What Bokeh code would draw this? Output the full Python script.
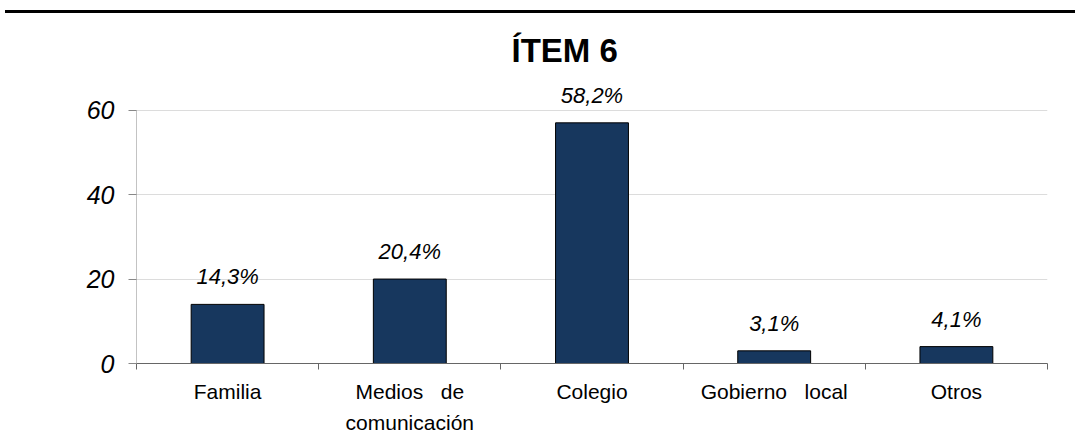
from bokeh.plotting import figure
from bokeh.models import (ColumnDataSource, Range1d, FixedTicker, LabelSet, Div, Title)
from bokeh.core.properties import value
from bokeh.layouts import column
from bokeh.embed import file_html
from bokeh.resources import INLINE

# ---- data ----
categories = ["Familia", "Medios de comunicación", "Colegio", "Gobierno local", "Otros"]
x_labels = ["Familia", "Medios\u00a0\u00a0\u00a0de\ncomunicación", "Colegio",
            "Gobierno\u00a0\u00a0\u00a0local", "Otros"]
counts = [14, 20, 57, 3, 4]
pct_labels = ["14,3%", "20,4%", "58,2%", "3,1%", "4,1%"]
y_ticks = [0, 20, 40, 60]
title_text = "ÍTEM 6"

FONT = "Liberation Sans"
BAR = "#17375E"

n = len(categories)
xc = [i + 0.5 for i in range(n)]
src = ColumnDataSource(dict(x=xc, top=counts, lab=pct_labels, cat=categories))

y_top = y_ticks[-1] + 7.5  # headroom for value labels

p = figure(width=1070, height=418, output_backend="svg", toolbar_location=None,
           x_range=Range1d(0, n), y_range=Range1d(0, y_top),
           min_border_left=136, min_border_right=23, min_border_top=60, min_border_bottom=73)
p.outline_line_color = None
p.background_fill_color = "white"

p.vbar(x="x", top="top", width=0.4, source=src, fill_color=BAR, line_color="black", line_width=1)

# y-axis line drawn only up to the last tick
p.segment(x0=[0], y0=[y_ticks[0]], x1=[0], y1=[y_ticks[-1]], line_color="#888888", line_width=1)

labels = LabelSet(x="x", y="top", text="lab", source=src, y_offset=20,
                  text_align="center", text_baseline="alphabetic",
                  text_font=value(FONT), text_font_size="22px", text_font_style="italic",
                  text_color="black")
p.add_layout(labels)

# title
p.title = Title(text=title_text, text_font=FONT, text_font_size="33px", text_font_style="bold",
                align="left", offset=375, standoff=20, text_color="black")

# y axis
ya = p.yaxis[0]
ya.ticker = FixedTicker(ticks=y_ticks)
ya.major_label_text_font = FONT
ya.major_label_text_font_size = "25px"
ya.major_label_text_font_style = "italic"
ya.major_label_text_color = "black"
ya.axis_line_color = None
ya.major_tick_line_color = "#888888"
ya.major_tick_out = 8
ya.major_tick_in = 0
ya.minor_tick_line_color = None
ya.major_label_standoff = 14

# x axis
xa = p.xaxis[0]
xa.ticker = FixedTicker(ticks=xc, minor_ticks=list(range(n + 1)))
xa.major_label_overrides = {v: t for v, t in zip(xc, x_labels)}
xa.major_label_text_font = FONT
xa.major_label_text_font_size = "21px"
xa.major_label_text_color = "black"
xa.major_label_text_line_height = 1.35
xa.axis_line_color = "#666666"
xa.major_tick_line_color = None
xa.major_tick_out = 0
xa.major_tick_in = 0
xa.minor_tick_line_color = "#666666"
xa.minor_tick_out = 6
xa.minor_tick_in = 0
xa.major_label_standoff = 10

p.xgrid.grid_line_color = None
p.ygrid.ticker = FixedTicker(ticks=y_ticks)
p.ygrid.grid_line_color = "#dcdcdc"
p.ygrid.grid_line_width = 1

top_line = Div(text="", width=1070, height=3,
               styles={"border-top": "3px solid black", "margin-top": "10px", "margin-left": "5px"})

layout = column(top_line, p, spacing=0)

open("out.html", "w").write(file_html(layout, INLINE))
